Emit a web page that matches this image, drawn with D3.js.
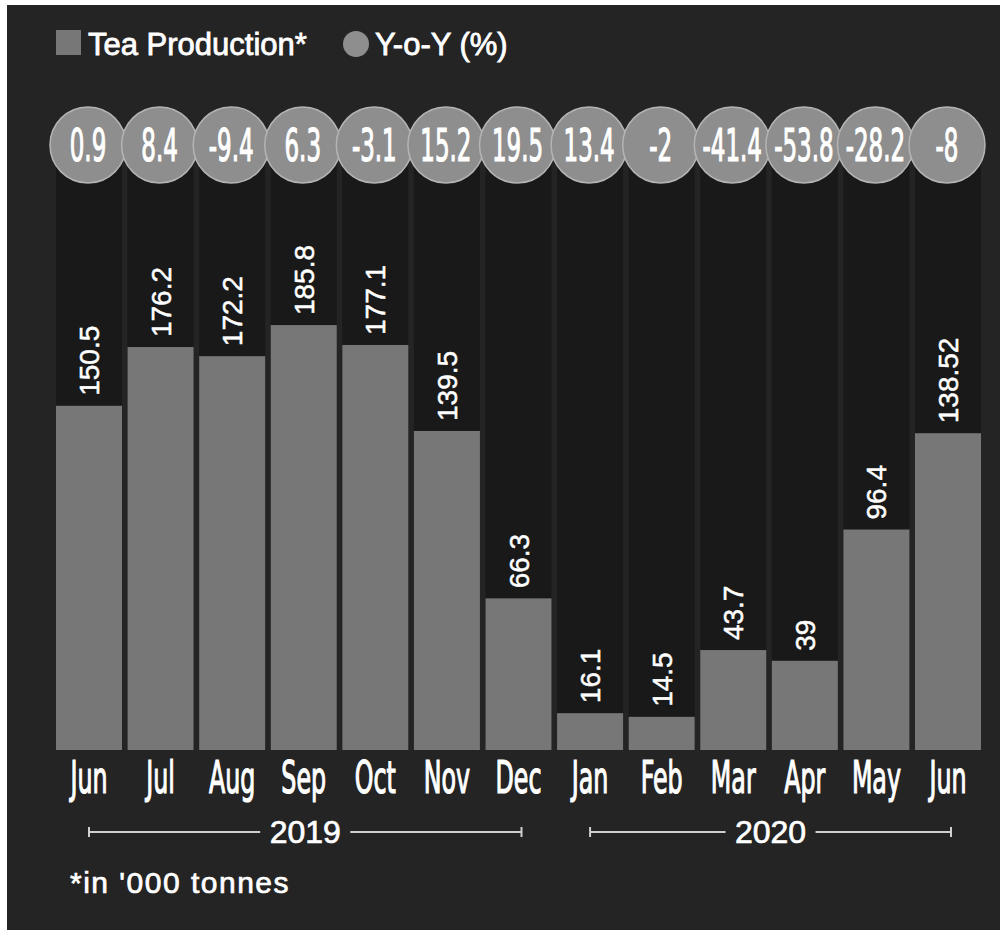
<!DOCTYPE html>
<html><head><meta charset="utf-8">
<script src="https://cdn.jsdelivr.net/npm/d3@7"></script>
<style>
html,body{margin:0;padding:0;background:#ffffff;}
svg{display:block;}
</style></head>
<body>
<script>
const months = ["Jun","Jul","Aug","Sep","Oct","Nov","Dec","Jan","Feb","Mar","Apr","May","Jun"];
const production = [150.5,176.2,172.2,185.8,177.1,139.5,66.3,16.1,14.5,43.7,39,96.4,138.52];
const productionLabels = ["150.5","176.2","172.2","185.8","177.1","139.5","66.3","16.1","14.5","43.7","39","96.4","138.52"];
const yoy = ["0.9","8.4","-9.4","6.3","-3.1","15.2","19.5","13.4","-2","-41.4","-53.8","-28.2","-8"];
const years = [{label:"2019", from:0, to:6},{label:"2020", from:7, to:12}];
const legendItems = ["Tea Production*","Y-o-Y (%)"];
const footnote = "*in '000 tonnes";

const W = 1006, H = 930;
const svg = d3.select("body").append("svg").attr("width", W).attr("height", H);

svg.append("rect").attr("x",7).attr("y",5).attr("width",993).attr("height",H-5).attr("fill","#242424");

const idx = d3.range(months.length);
const x = d3.scaleBand().domain(idx).range([56, 981]).paddingInner(0.078).paddingOuter(0);
const y = d3.scaleLinear().domain([0, 200]).range([750, 750 - 200*2.287]);

const condensed = "'Liberation Sans Narrow','DejaVu Sans Condensed','Liberation Sans',sans-serif";
const sans = "'Liberation Sans','Helvetica Neue',Arial,sans-serif";

// dark background columns
svg.append("g").selectAll("rect").data(idx).join("rect")
  .attr("x", i => x(i)).attr("width", x.bandwidth())
  .attr("y", 145).attr("height", y(0) - 145)
  .attr("fill", "#191919");

// bars
svg.append("g").selectAll("rect").data(idx).join("rect")
  .attr("x", i => x(i)).attr("width", x.bandwidth())
  .attr("y", i => y(production[i])).attr("height", i => y(0) - y(production[i]))
  .attr("fill", "#777777");

// value labels (rotated)
svg.append("g").selectAll("text").data(idx).join("text")
  .attr("transform", i => `translate(${x(i) + x.bandwidth()/2 + 10},${y(production[i]) - 10}) rotate(-90)`)
  .attr("text-anchor","start")
  .attr("font-family", sans).attr("font-size", 28)
  .attr("stroke","#ffffff").attr("stroke-width",0.5)
  .attr("fill","#ffffff")
  .text(i => productionLabels[i]);

// YoY circles
const cg = svg.append("g").selectAll("g").data(idx).join("g")
  .attr("transform", i => `translate(${x(i) + x.bandwidth()/2 - 1},145)`);
cg.append("circle").attr("r", 38).attr("fill","#8e8e8e").attr("stroke","#b4b4b4").attr("stroke-width",1.5);
cg.append("text")
  .attr("transform","scale(0.58,1)")
  .attr("text-anchor","middle").attr("y", 16)
  .attr("font-family", condensed).attr("font-size", 44)
  .attr("stroke","#ffffff").attr("stroke-width",1.2)
  .attr("fill","#ffffff")
  .text(i => yoy[i]);

// month axis
const xAxis = d3.axisBottom(x).tickSize(0).tickFormat(i => months[i]);
const ax = svg.append("g").attr("transform","translate(0,750)").call(xAxis);
ax.select(".domain").remove();
ax.selectAll("text")
  .attr("y", 0).attr("dy", 0)
  .attr("font-family", condensed).attr("font-size", 44)
  .attr("stroke","#ffffff").attr("stroke-width",1.2)
  .attr("fill","#ffffff")
  .attr("text-anchor","middle")
  .attr("transform", "translate(0,43) scale(0.6,1)");

// year brackets
const yg = svg.append("g").selectAll("g").data(years).join("g");
yg.each(function(d){
  const g = d3.select(this);
  const x0 = x(d.from) + x.bandwidth()/2;
  const x1 = x(d.to) + x.bandwidth()/2 + 3;
  const cx = (x0 + x1)/2;
  const yy = 832;
  const half = 45;
  g.append("line").attr("x1",x0).attr("x2",cx-half).attr("y1",yy).attr("y2",yy).attr("stroke","#cfcfcf").attr("stroke-width",2);
  g.append("line").attr("x1",cx+half).attr("x2",x1).attr("y1",yy).attr("y2",yy).attr("stroke","#cfcfcf").attr("stroke-width",2);
  [x0,x1].forEach(xx => g.append("line").attr("x1",xx).attr("x2",xx).attr("y1",yy-5).attr("y2",yy+5).attr("stroke","#cfcfcf").attr("stroke-width",2));
  g.append("text").attr("x",cx).attr("y",yy+11).attr("text-anchor","middle")
    .attr("font-family",sans).attr("font-size",32).attr("stroke","#ffffff").attr("stroke-width",0.7)
    .attr("fill","#ffffff").text(d.label);
});

// legend
svg.append("rect").attr("x",56).attr("y",30).attr("width",25).attr("height",25).attr("fill","#777777");
svg.append("text").attr("x",88).attr("y",55).attr("font-family",sans).attr("font-size",31)
  .attr("stroke","#ffffff").attr("stroke-width",0.8)
  .attr("fill","#ffffff").text(legendItems[0]);
svg.append("circle").attr("cx",356).attr("cy",44).attr("r",13).attr("fill","#8e8e8e");
svg.append("text").attr("x",375).attr("y",55).attr("font-family",sans).attr("font-size",31)
  .attr("stroke","#ffffff").attr("stroke-width",0.8)
  .attr("fill","#ffffff").text(legendItems[1]);

// footnote
svg.append("text").attr("x",70).attr("y",893).attr("font-family",sans).attr("font-size",30)
  .attr("stroke","#ffffff").attr("stroke-width",0.7)
  .attr("letter-spacing",1.5).attr("fill","#ffffff").text(footnote);
</script>
</body></html>
